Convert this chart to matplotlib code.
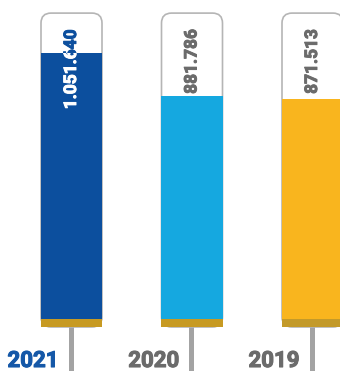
import numpy as np
import matplotlib
matplotlib.use("Agg")
from matplotlib import pyplot as plt
from matplotlib import patheffects as pe
from matplotlib.patches import FancyBboxPatch, Rectangle
from matplotlib.transforms import Bbox, TransformedBbox

years = ["2021", "2020", "2019"]
values = [1051640, 881786, 871513]
value_labels = ["1.051.640", "881.786", "871.513"]
fill_colors = ["#0c4f9e", "#15a8e0", "#f9b51e"]
band_colors = ["#c79a22", "#c79a22", "#c39a2a"]
label_colors = ["#1558a8", "#6b6b6b", "#6b6b6b"]
text_out_colors = ["#0c4f9e", "#6b6b6b", "#6b6b6b"]

W, H = 340, 371
fig = plt.figure(figsize=(W / 100, H / 100), dpi=100)
ax = fig.add_axes([0, 0, 1, 1])
ax.axis("off")

# scales: pixels per data unit
vmax = max(values)
ppu_y = 266 / vmax
ppu_x = 120.5
ax.set_xlim(-71.5 / ppu_x, (W - 71.5) / ppu_x)
ax.set_ylim(-52 / ppu_y, 319 / ppu_y)

tube_top = vmax * 1.15
bar_w = 61 / ppu_x
band_h = 8 / ppu_y
stem_w = 5 / ppu_x
aspect = ppu_x / ppu_y
y_bottom = ax.get_ylim()[0]

for i, v in enumerate(values):
    x0 = i - bar_w / 2
    # stem
    ax.add_patch(Rectangle((i - stem_w / 2, y_bottom), stem_w, -y_bottom,
                           color="#a3a3a3", lw=0, zorder=1))
    # tube outline
    tube = FancyBboxPatch((x0, -band_h), bar_w, tube_top + band_h,
                          boxstyle="round,pad=0,rounding_size=%f" % (10 / ppu_x),
                          mutation_aspect=aspect, fc="white", ec="#b5b5b5",
                          lw=1.2, zorder=2)
    ax.add_patch(tube)
    # fill
    ax.add_patch(Rectangle((x0 - 0.004, 0), bar_w + 0.008, v,
                           color=fill_colors[i], lw=0, zorder=3))
    ax.add_patch(Rectangle((x0 - 0.004, -band_h), bar_w + 0.008, band_h,
                           color=band_colors[i], lw=0, zorder=3))

    # value label, coloured differently inside / outside the fill
    ty = tube_top - 16 / ppu_y
    box_out = TransformedBbox(Bbox([[x0, v], [x0 + bar_w, tube_top * 1.05]]), ax.transData)
    box_in = TransformedBbox(Bbox([[x0, 0], [x0 + bar_w, v]]), ax.transData)
    for col, box in [(text_out_colors[i], box_out), ("white", box_in)]:
        t = ax.text(i, ty, value_labels[i], rotation=90, ha="center", va="top",
                    color=col, fontsize=12.5, fontweight="bold", family="Roboto", zorder=5,
                    path_effects=[pe.withStroke(linewidth=0.7, foreground=col)])
        t.set_clip_box(box)
        t.set_clip_on(True)

    # year label
    ax.text(i - 13 / ppu_x, -48 / ppu_y, years[i], ha="right", va="baseline",
            color=label_colors[i], fontsize=16, fontweight="bold", family="Roboto",
            path_effects=[pe.withStroke(linewidth=0.8, foreground=label_colors[i])])

fig.savefig("out.png", dpi=100)
